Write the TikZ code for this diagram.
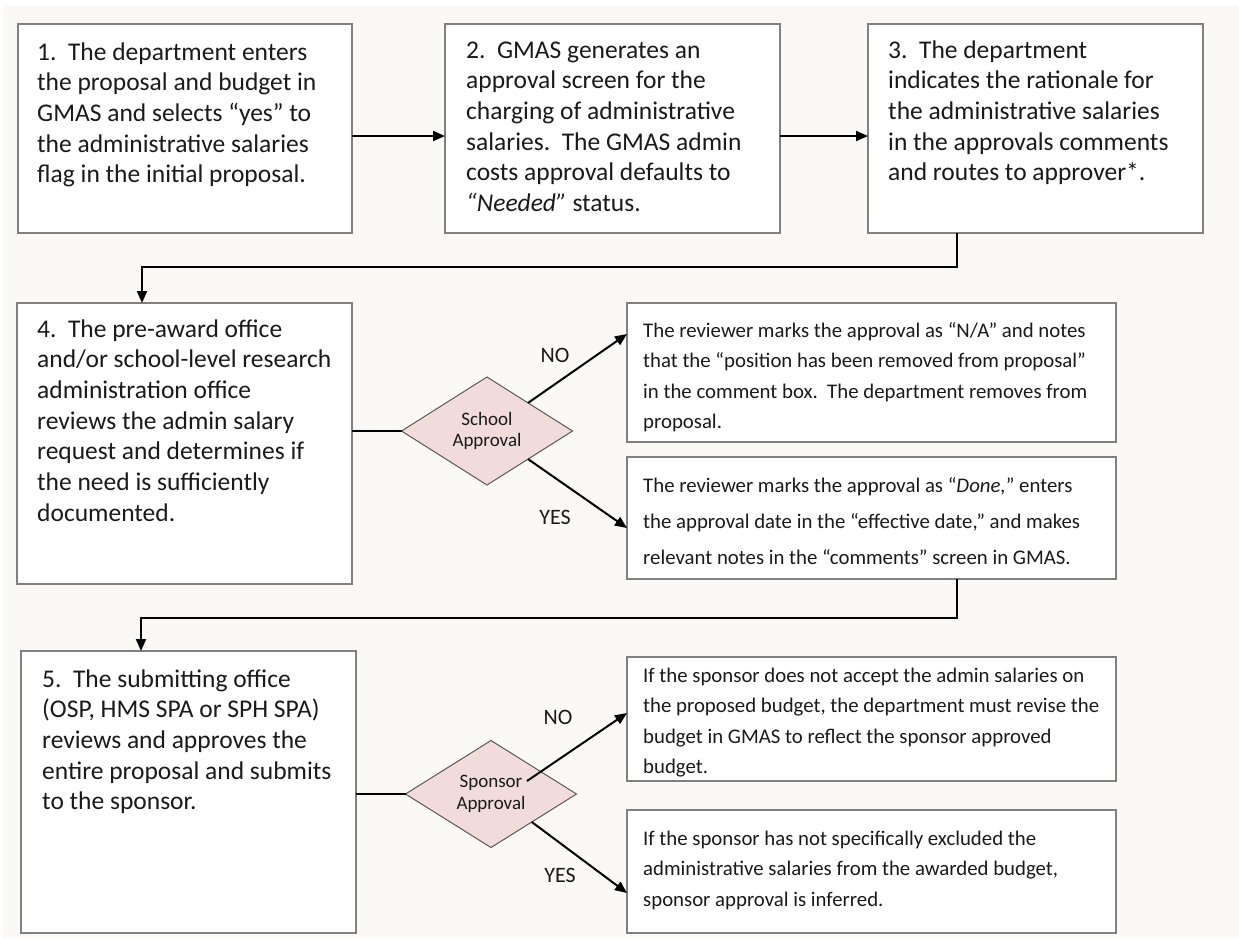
\documentclass[tikz,border=0pt]{standalone}
\usepackage{fontspec}
\setmainfont{Carlito}
\usetikzlibrary{arrows.meta,shapes.geometric,calc}
\definecolor{bgc}{HTML}{FAF9F5}
\definecolor{boxc}{HTML}{808080}
\definecolor{dfill}{HTML}{F2DCDB}
\definecolor{dline}{HTML}{595959}
\definecolor{txtc}{HTML}{1A1A1A}
\newcommand\FntL{\fontsize{25.5}{30.7}\selectfont}
\newcommand\FntR{\fontsize{20.8}{30.6}\selectfont}
\tikzset{
  stepbox/.style={draw=boxc, line width=2.2pt, fill=white, anchor=north west, inner sep=0pt, outer sep=0pt},
  txt/.style={anchor=base west, inner sep=0pt, text=txtc},
  arr/.style={line width=2pt, -{Triangle[length=12pt,width=10pt]}},
  ln/.style={line width=2pt},
  dec/.style={diamond, draw=dline, line width=1pt, fill=dfill, minimum width=171pt, minimum height=108pt, inner sep=0pt, outer sep=0pt, aspect=1.6, align=center, text=txtc, font=\fontsize{19}{21.5}\selectfont},
  lab/.style={inner sep=0pt, text=txtc, font=\fontsize{22}{24}\selectfont}
}
\begin{document}
\begin{tikzpicture}[x=1pt,y=-1pt]
\useasboundingbox (0,0) rectangle (1239,938);
\fill[white] (0,0) rectangle (1239,938);
\fill[bgc] (3,5) rectangle (1239,938);

% boxes
\node[stepbox, minimum width=334pt, minimum height=209pt] (b1) at (18,24) {};
\node[stepbox, minimum width=335pt, minimum height=209pt] (b2) at (445,24) {};
\node[stepbox, minimum width=335pt, minimum height=209pt] (b3) at (868,24) {};
\node[stepbox, minimum width=335pt, minimum height=281pt] (b4) at (17,303) {};
\node[stepbox, minimum width=335pt, minimum height=282pt] (b5) at (21,651) {};
\node[stepbox, minimum width=489pt, minimum height=139pt] (n1) at (627,303) {};
\node[stepbox, minimum width=489pt, minimum height=122pt] (y1) at (627,457) {};
\node[stepbox, minimum width=489pt, minimum height=124pt] (n2) at (627,657) {};
\node[stepbox, minimum width=489pt, minimum height=123pt] (y2) at (627,810) {};

% texts
\node[txt] (t1) at (37,60) {\parbox[t]{320pt}{\FntL 1.\ \ The department enters\\the proposal and budget in\\GMAS and selects “yes” to\\the administrative salaries\\flag in the initial proposal.}};
\node[txt] (t2) at (466,58) {\parbox[t]{320pt}{\FntL 2.\ \ GMAS generates an\\approval screen for the\\charging of administrative\\salaries.\ \ The GMAS admin\\costs approval defaults to\\\textit{“Needed”} status.}};
\node[txt] (t3) at (888,58) {\parbox[t]{320pt}{\FntL 3.\ \ The department\\indicates the rationale for\\the administrative salaries\\in the approvals comments\\and routes to approver*.}};
\node[txt] (t4) at (37,337) {\parbox[t]{320pt}{\FntL 4.\ \ The pre-award office\\and/or school-level research\\administration office\\reviews the admin salary\\request and determines if\\the need is sufficiently\\documented.}};
\node[txt] (t5) at (42,687) {\parbox[t]{320pt}{\FntL 5.\ \ The submitting office\\(OSP, HMS SPA or SPH SPA)\\reviews and approves the\\entire proposal and submits\\to the sponsor.}};
\node[txt] (t6) at (643,337) {\parbox[t]{480pt}{\FntR The reviewer marks the approval as “N/A” and notes\\that the “position has been removed from proposal”\\in the comment box.\ \ The department removes from\\proposal.}};
\node[txt] (t7) at (643,492) {\parbox[t]{480pt}{\fontsize{20.8}{36}\selectfont The reviewer marks the approval as “\textit{Done,}” enters\\the approval date in the “effective date,” and makes\\relevant notes in the “comments” screen in GMAS.}};
\node[txt] (t8) at (643,682) {\parbox[t]{480pt}{\FntR If the sponsor does not accept the admin salaries on\\the proposed budget, the department must revise the\\budget in GMAS to reflect the sponsor approved\\budget.}};
\node[txt] (t9) at (643,845) {\parbox[t]{480pt}{\FntR If the sponsor has not specifically excluded the\\administrative salaries from the awarded budget,\\sponsor approval is inferred.}};

% diamonds
\node[dec] (d1) at (487,431) {School\\Approval};
\node[dec, minimum height=107pt] (d2) at (491,794) {Sponsor\\Approval};

% connectors
\draw[arr] ([yshift=-7.5pt]b1.east) -- ([yshift=-7.5pt]b2.west);
\draw[arr] ([yshift=-7.5pt]b2.east) -- ([yshift=-7.5pt]b3.west);
\draw[arr] ([xshift=89pt]b3.south west) -- ++(0,34) -| ([xshift=125pt]b4.north west);
\draw[ln] (b4.east |- d1.west) -- (d1.west);
\draw[arr] ($(d1.north)!0.48!(d1.east)$) -- ([yshift=38.5pt]n1.west);
\draw[arr] ($(d1.south)!0.48!(d1.east)$) -- ([yshift=-10pt]y1.west);
\draw[arr] ([xshift=330pt]y1.south west) -- ++(0,39) -| ([xshift=120pt]b5.north west);
\draw[ln] (b5.east |- d2.west) -- (d2.west);
\draw[arr] ([shift={(36pt,13pt)}]d2.center) -- ([yshift=6pt]n2.west);
\draw[arr] ($(d2.south)!0.477!(d2.east)$) -- ([yshift=-21.5pt]y2.west);

% labels
\node[lab] (l1) at (555,355) {NO};
\node[lab] (l2) at (555,517) {YES};
\node[lab] (l3) at (558,717) {NO};
\node[lab] (l4) at (560,875) {YES};
\end{tikzpicture}
\end{document}
